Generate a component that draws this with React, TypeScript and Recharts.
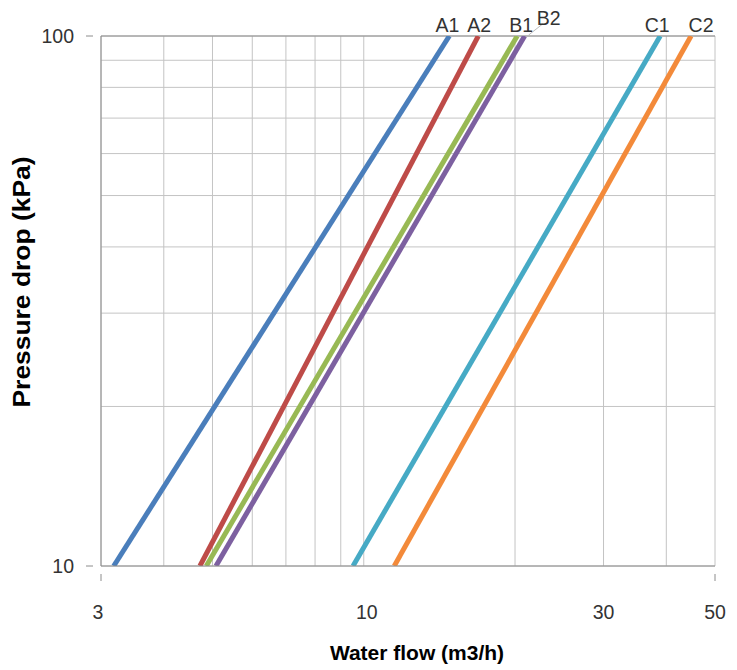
import React from 'react';
import { LineChart, Line, XAxis, YAxis, CartesianGrid, ReferenceLine } from 'recharts';

// pressure drop (kPa) at the two ends of every curve
const pressure = [10, 100];

// water flow (m3/h) read at 10 kPa and at 100 kPa
const flowA1 = [3.18, 14.8];
const flowA2 = [4.72, 16.9];
const flowB1 = [4.86, 20.2];
const flowB2 = [5.08, 20.9];
const flowC1 = [9.52, 38.9];
const flowC2 = [11.5, 44.8];

const xGridTicks = [3, 4, 5, 6, 7, 8, 9, 10, 20, 30, 40, 50];
const xLabelTicks = [3, 10, 30, 50];
const yGridTicks = [10, 20, 30, 40, 50, 60, 70, 80, 90, 100];
const yLabelTicks = [10, 100];

const seriesNames = ['A1', 'A2', 'B1', 'B2', 'C1', 'C2'];
const seriesFlows = [flowA1, flowA2, flowB1, flowB2, flowC1, flowC2];
const seriesColors = ['#4A7EBB', '#BE4B48', '#98B954', '#7D60A0', '#46AAC5', '#F38A3A'];

const toPoints = (flows: number[]) => flows.map((flow, i) => ({ flow, kpa: pressure[i] }));

const FONT = '"Liberation Sans", Arial, sans-serif';

// label shifts so the names sit the way they do in the original
const labelShift: Record<string, { dx: number; dy: number; leader?: boolean }> = {
  A1: { dx: -2, dy: 0 },
  A2: { dx: 1, dy: 0 },
  B1: { dx: 4, dy: 0 },
  B2: { dx: 24, dy: -7, leader: true },
  C1: { dx: -3, dy: 0 },
  C2: { dx: 10, dy: 0 },
};

const XTick = (props: any) => {
  const { x, y, payload } = props;
  const v = payload.value;
  const edge = v === 3 || v === 50;
  return (
    <g>
      {edge && <line x1={x} x2={x} y1={y} y2={y + 7} stroke="#8c8c8c" />}
      {xLabelTicks.includes(v) && (
        <text x={x + (v === 3 ? -3 : v === 10 ? 3 : 0)} y={y + 45} textAnchor="middle" fontSize={19.5} fill="#333" fontFamily={FONT}>
          {v}
        </text>
      )}
    </g>
  );
};

const YTick = (props: any) => {
  const { x, y, payload } = props;
  const v = payload.value;
  if (!yLabelTicks.includes(v)) return <g />;
  return (
    <g>
      <line x1={x - 7} x2={x} y1={y} y2={y} stroke="#8c8c8c" />
      <text x={x - 19} y={y} dy="0.36em" textAnchor="end" fontSize={19.5} fill="#333" fontFamily={FONT}>
        {v}
      </text>
    </g>
  );
};

const topLabel = (name: string) => (p: any) => {
  if (p.index !== 1) return <g key={name + p.index} />;
  const s = labelShift[name];
  return (
    <g key={name + p.index}>
      {s.leader && <line x1={p.x + 4} y1={p.y - 1} x2={p.x + 18} y2={p.y - 12} stroke="#bbb" strokeWidth={1} />}
      <text x={p.x + s.dx} y={p.y - 4 + s.dy} textAnchor="middle" fontSize={19.5} fill="#333" fontFamily={FONT}>
        {name}
      </text>
    </g>
  );
};

export default function App() {
  return (
    <div style={{ position: 'absolute', left: 0, top: 0, width: 737, height: 670, background: '#fff' }}>
      <LineChart width={737} height={670} margin={{ top: 36, right: 22, bottom: 0, left: 0 }}>
        <CartesianGrid stroke="#c4c4c4" strokeWidth={1} />
        <XAxis
          dataKey="flow"
          type="number"
          scale="log"
          domain={[3, 50]}
          ticks={xGridTicks}
          allowDataOverflow
          height={104}
          axisLine={{ stroke: '#8c8c8c' }}
          tickLine={false}
          tick={<XTick />}
          interval={0}
          label={{
            content: () => (
              <text x={417} y={660} textAnchor="middle" fontSize={21} fontWeight="bold" fill="#000" fontFamily={FONT}>
                Water flow (m3/h)
              </text>
            ),
          }}
        />
        <YAxis
          dataKey="kpa"
          type="number"
          scale="log"
          domain={[10, 100]}
          ticks={yGridTicks}
          allowDataOverflow
          width={101}
          axisLine={{ stroke: '#8c8c8c' }}
          tickLine={false}
          tick={<YTick />}
          interval={0}
          label={{
            content: () => (
              <text
                x={22}
                y={282}
                transform="rotate(-90 22 282)"
                dy="0.35em"
                textAnchor="middle"
                fontSize={23}
                fontWeight="bold"
                fill="#000"
                fontFamily={FONT}
                textLength={251}
                lengthAdjust="spacingAndGlyphs"
              >
                Pressure drop (kPa)
              </text>
            ),
          }}
        />
        <ReferenceLine y={100} stroke="#8c8c8c" />
        {seriesNames.map((name, i) => (
          <Line
            key={name}
            data={toPoints(seriesFlows[i])}
            dataKey="kpa"
            type="linear"
            stroke={seriesColors[i]}
            strokeWidth={5}
            dot={false}
            activeDot={false}
            isAnimationActive={false}
            label={topLabel(name)}
          />
        ))}
      </LineChart>
    </div>
  );
}
